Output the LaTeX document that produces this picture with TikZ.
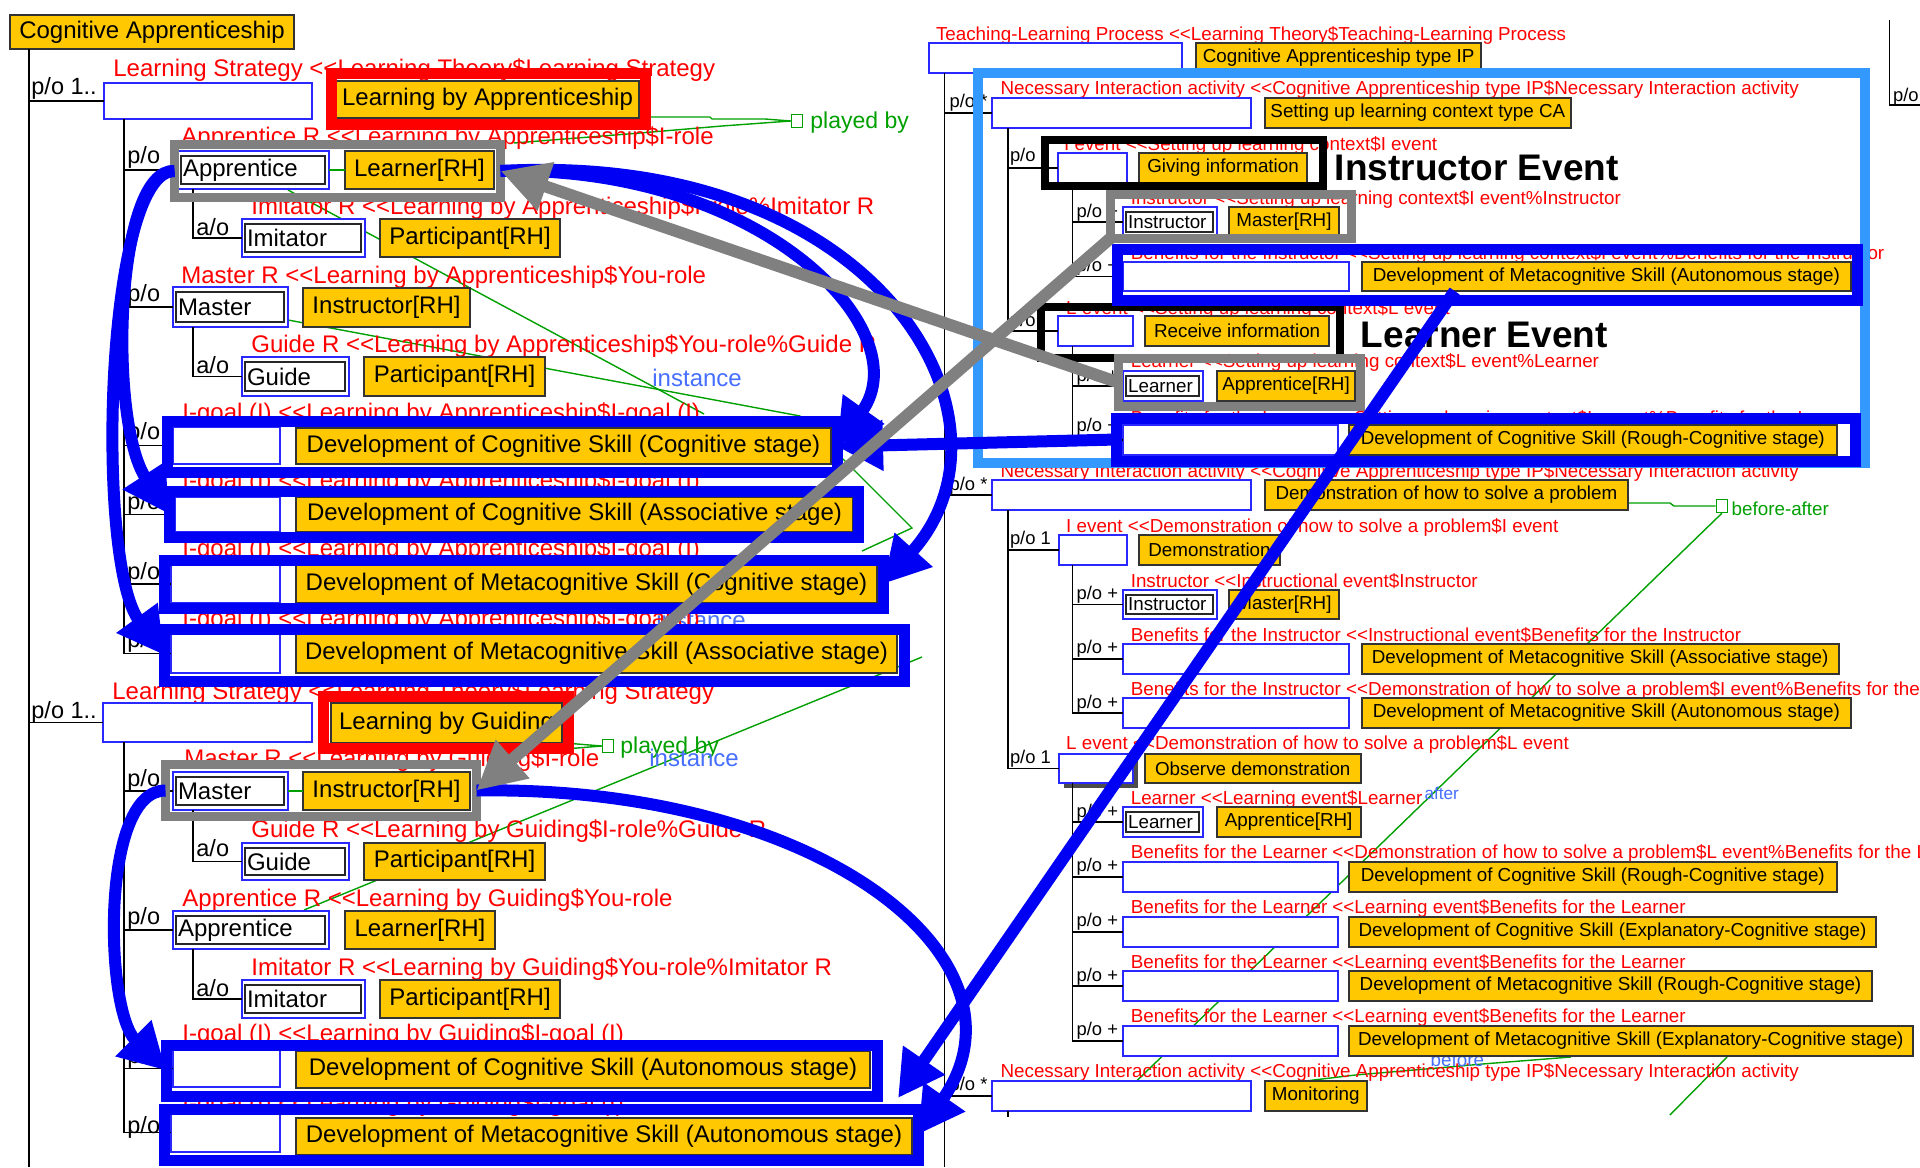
\documentclass[tikz,border=0pt]{standalone}
\usepackage{fontspec}
\setmainfont{Liberation Sans}
\usetikzlibrary{arrows.meta,calc}

\definecolor{boxyellow}{RGB}{255,200,0}
\definecolor{lblred}{RGB}{255,0,0}
\definecolor{frblue}{RGB}{0,0,245}
\definecolor{ltblue}{RGB}{51,153,255}
\definecolor{frgrey}{RGB}{128,128,128}
\definecolor{lkgreen}{RGB}{0,160,0}
\definecolor{instblue}{RGB}{70,110,255}
\definecolor{edgeblue}{RGB}{40,40,255}

% "<<" without the TeX ligature
\newcommand\dbl{<\kern0pt<}
% box: style, name, x1, y1, x2, y2, text (pixel units, y downwards)
\newcommand\bx[7]{\node[#1, anchor=north west, minimum width={(#5-#3)*0.5pt}, minimum height={(#6-#4)*0.5pt}] (#2) at (#3,#4) {#7};}
% role box with inner black outline
\newcommand\rb[7]{\node[#1, anchor=north west, minimum height={(#6-#4)*0.5pt}, text width={(#5-#3-10)*0.5pt}] (#2) at (#3,#4) {#7};
  \draw[line width=1.1pt, black!85] (#3+3,#4+5) rectangle (#5-4,#6-5);}
% highlight frame: style, name, centre-line rectangle
\newcommand\fr[6]{\node[#1, anchor=north west, minimum width={(#5-#3)*0.5pt}, minimum height={(#6-#4)*0.5pt}] (#2) at (#3,#4) {};}
% free text
\newcounter{tn}
\newcommand\tx[3][lbl]{\stepcounter{tn}\node[#1] (t\arabic{tn}) at (#2) {#3};}

\begin{document}
\begin{tikzpicture}[x=0.5pt,y=-0.5pt,
  lbl/.style={text=lblred, inner sep=0, anchor=west, font=\fontsize{12}{14}\selectfont},
  lblr/.style={lbl, font=\fontsize{9.4}{11}\selectfont},
  po/.style={inner sep=0, anchor=west, font=\fontsize{11.75}{14}\selectfont},
  por/.style={po, font=\fontsize{9.2}{11}\selectfont},
  big/.style={inner sep=0, anchor=west, font=\fontsize{18.5}{21}\selectfont\bfseries},
  grn/.style={inner sep=0, anchor=west, text=lkgreen, font=\fontsize{11.5}{13}\selectfont},
  inst/.style={inner sep=0, anchor=west, text=instblue, font=\fontsize{12}{14}\selectfont},
  ybox/.style={draw=black!80, fill=boxyellow, line width=1pt, inner sep=0, outer sep=0, font=\fontsize{12}{14}\selectfont},
  yboxr/.style={ybox, font=\fontsize{9.4}{11}\selectfont},
  wbox/.style={draw=edgeblue, fill=white, line width=1pt, inner sep=0, outer sep=0},
  rbox/.style={wbox, inner xsep=2.5pt, align=left, font=\fontsize{12}{14}\selectfont},
  rboxr/.style={rbox, font=\fontsize{9.4}{11}\selectfont},
  redfr/.style={draw=red, line width=5.5pt, inner sep=0, outer sep=0},
  greyfr/.style={draw=frgrey, line width=4.5pt, inner sep=0, outer sep=0},
  bluefr/.style={draw=frblue, line width=5.5pt, inner sep=0, outer sep=0},
  ltfr/.style={draw=ltblue, line width=5pt, inner sep=0, outer sep=0},
  blackfr/.style={draw=black, line width=4pt, inner sep=0, outer sep=0},
  sq/.style={draw=lkgreen, line width=0.8pt, fill=white, minimum width=5.5pt, minimum height=6.5pt, inner sep=0},
  tree/.style={line width=0.8pt, black},
  lnk/.style={draw=lkgreen, line width=0.7pt},
  bluearr/.style={draw=frblue, line width=6pt, -{Triangle[length=23pt,width=24pt]}},
  greyarr/.style={draw=frgrey, line width=6pt, -{Triangle[length=24pt,width=24pt]}}]

\useasboundingbox (0,0) rectangle (1920,1167);
\fill[white] (0,0) rectangle (1920,1167);
\clip (0,0) rectangle (1920,1167);

% ---------- model links (green) ----------
\node[sq] (pb1) at (797,121) {};
\node[sq] (pb2) at (608,746) {};
\node[sq] (ba) at (1721.8,506) {};
\draw[lnk] (330,117) -- (710,117) -- (712,119) -- (765,119) -- (pb1.west);
\draw[lnk] (514,143) -- (640,133) -- (722,126) -- (pb1.west);
\draw[lnk] (288,190) -- (704,414);
\draw[lnk] (288,320) -- (800,416) -- (912,528) -- (862,551);
\draw[lnk] (304,910) -- (922,657);
\draw[lnk] (565,743) -- (pb2.west);
\draw[lnk] (565,749) -- (pb2.west);
\draw[lnk] (1628.2,503) -- (1669.9,503) -- (1674,506) -- (ba.west);
\draw[lnk] (ba.south) -- (1136.6,1081);
\draw[lnk] (1727.1,1057) -- (1669.9,1115);
\draw[lnk] (1305.3,1081) -- (1355.3,1075) -- (1449,1067) -- (1482.4,1064) -- (1570.9,1057);
\tx[grn]{810,123}{played by}
\tx[grn]{620,748}{played by}
\tx[grn,font=\fontsize{9.4}{11}\selectfont]{1731.3,509}{before-after}
\tx[inst]{652,378}{instance}
\tx[inst]{656,620}{instance}
\tx[inst]{649,758}{instance}
\tx[inst,font=\fontsize{8.6}{10}\selectfont]{1424.1,793}{after}
\tx[inst,font=\fontsize{9.4}{11}\selectfont]{1430.3,1060}{before}

% ---------- labels, left tree ----------
\tx{113,70}{Learning Strategy \dbl Learning Theory\$Learning Strategy}
\tx{181,138}{Apprentice R \dbl Learning by Apprenticeship\$I-role}
\tx{251,208}{Imitator R \dbl Learning by Apprenticeship\$I-role\%Imitator R}
\tx{181,277}{Master R \dbl Learning by Apprenticeship\$You-role}
\tx{251,346}{Guide R \dbl Learning by Apprenticeship\$You-role\%Guide R}
\tx{182,414}{I-goal (I) \dbl Learning by Apprenticeship\$I-goal (I)}
\tx{182,482}{I-goal (I) \dbl Learning by Apprenticeship\$I-goal (I)}
\tx{182,550}{I-goal (I) \dbl Learning by Apprenticeship\$I-goal (I)}
\tx{182,620}{I-goal (I) \dbl Learning by Apprenticeship\$I-goal (I)}
\tx{112,693}{Learning Strategy \dbl Learning Theory\$Learning Strategy}
\tx{184,760}{Master R \dbl Learning by Guiding\$I-role}
\tx{251,831}{Guide R \dbl Learning by Guiding\$I-role\%Guide R}
\tx{182,900}{Apprentice R \dbl Learning by Guiding\$You-role}
\tx{251,969}{Imitator R \dbl Learning by Guiding\$You-role\%Imitator R}
\tx{182,1035}{I-goal (I) \dbl Learning by Guiding\$I-goal (I)}
\tx{182,1105}{I-goal (I) \dbl Learning by Guiding\$I-goal (I)}

\tx[po]{31,88}{p/o 1..}
\tx[po]{31,712}{p/o 1..}
\tx[po]{127,157}{p/o}
\tx[po]{127,295}{p/o}
\tx[po]{127,433}{p/o}
\tx[po]{127,503}{p/o}
\tx[po]{127,573}{p/o}
\tx[po]{127,641}{p/o}
\tx[po]{127,780}{p/o}
\tx[po]{127,918}{p/o}
\tx[po]{127,1057}{p/o}
\tx[po]{127,1127}{p/o}
\tx[po]{196,227}{a/o}
\tx[po]{196,365}{a/o}
\tx[po]{196,848}{a/o}
\tx[po]{196,988}{a/o}

% ---------- labels, right tree ----------
\tx[lblr]{935.6,35}{Teaching-Learning Process \dbl Learning Theory\$Teaching-Learning Process}
\tx[lblr]{1000.2,89}{Necessary Interaction activity \dbl Cognitive Apprenticeship type IP\$Necessary Interaction activity}
\tx[lblr]{1063.7,145}{I event \dbl Setting up learning context\$I event}
\tx[lblr]{1130.4,199}{Instructor \dbl Setting up learning context\$I event\%Instructor}
\tx[lblr]{1130.4,254}{Benefits for the Instructor \dbl Setting up learning context\$I event\%Benefits for the Instructor}
\tx[lblr]{1065.8,309}{L event \dbl Setting up learning context\$L event}
\tx[lblr]{1130.4,362}{Learner \dbl Setting up learning context\$L event\%Learner}
\tx[lblr]{1130.4,419}{Benefits for the Learner \dbl Setting up learning context\$L event\%Benefits for the Learner}
\tx[lblr]{1000.2,472}{Necessary Interaction activity \dbl Cognitive Apprenticeship type IP\$Necessary Interaction activity}
\tx[lblr]{1065.8,527}{I event \dbl Demonstration of how to solve a problem\$I event}
\tx[lblr]{1130.4,581}{Instructor \dbl Instructional event\$Instructor}
\tx[lblr]{1130.4,635}{Benefits for the Instructor \dbl Instructional event\$Benefits for the Instructor}
\tx[lblr]{1130.4,690}{Benefits for the Instructor \dbl Demonstration of how to solve a problem\$I event\%Benefits for the Instructor}
\tx[lblr]{1065.8,744}{L event \dbl Demonstration of how to solve a problem\$L event}
\tx[lblr]{1130.4,799}{Learner \dbl Learning event\$Learner}
\tx[lblr]{1130.4,853}{Benefits for the Learner \dbl Demonstration of how to solve a problem\$L event\%Benefits for the Learner}
\tx[lblr]{1130.4,908}{Benefits for the Learner \dbl Learning event\$Benefits for the Learner}
\tx[lblr]{1130.4,963}{Benefits for the Learner \dbl Learning event\$Benefits for the Learner}
\tx[lblr]{1130.4,1017}{Benefits for the Learner \dbl Learning event\$Benefits for the Learner}
\tx[lblr]{1000.2,1072}{Necessary Interaction activity \dbl Cognitive Apprenticeship type IP\$Necessary Interaction activity}

\tx[por]{949.2,103}{p/o *}
\tx[por]{949.2,486}{p/o *}
\tx[por]{949.2,1086}{p/o *}
\tx[por]{1009.6,157}{p/o}
\tx[por]{1009.6,322}{p/o}
\tx[por]{1009.6,540}{p/o 1}
\tx[por]{1009.6,759}{p/o 1}
\tx[por]{1076.2,213}{p/o +}
\tx[por]{1076.2,267}{p/o +}
\tx[por]{1076.2,377}{p/o +}
\tx[por]{1076.2,427}{p/o +}
\tx[por]{1076.2,595}{p/o +}
\tx[por]{1076.2,649}{p/o +}
\tx[por]{1076.2,704}{p/o +}
\tx[por]{1076.2,813}{p/o +}
\tx[por]{1076.2,867}{p/o +}
\tx[por]{1076.2,922}{p/o +}
\tx[por]{1076.2,977}{p/o +}
\tx[por]{1076.2,1031}{p/o +}
\tx[por]{1892.7,97}{p/o}

% ---------- left tree: boxes ----------
\bx{ybox}{root}{10}{15}{294}{49}{Cognitive Apprenticeship}
\bx{wbox}{s1}{104}{83}{312}{119}{}
\bx{ybox}{lba}{336}{81}{639}{118}{Learning by Apprenticeship}
\rb{rbox}{aA}{178}{151}{329}{189}{Apprentice}
\bx{ybox}{yaA}{345}{151}{494}{189}{Learner[RH]}
\rb{rbox}{iA}{242}{219}{365}{257}{Imitator}
\bx{ybox}{yiA}{380}{219}{560}{257}{Participant[RH]}
\rb{rbox}{mA}{173}{287}{288}{327}{Master}
\bx{ybox}{ymA}{303}{288}{470}{327}{Instructor[RH]}
\rb{rbox}{gA}{242}{357}{349}{396}{Guide}
\bx{ybox}{ygA}{364}{357}{545}{396}{Participant[RH]}
\bx{wbox}{wC1}{173}{427}{280}{464}{}
\bx{ybox}{yC1}{296}{428}{831}{464}{Development of Cognitive Skill (Cognitive stage)}
\bx{wbox}{wC2}{175}{497}{280}{532}{}
\bx{ybox}{yC2}{296}{497}{853}{532}{Development of Cognitive Skill (Associative stage)}
\bx{wbox}{wM1}{171}{565}{280}{603}{}
\bx{ybox}{yM1}{296}{565}{877}{603}{Development of Metacognitive Skill (Cognitive stage)}
\bx{wbox}{wM2}{171}{634}{280}{673}{}
\bx{ybox}{yM2}{296}{634}{897}{673}{Development of Metacognitive Skill (Associative stage)}
\bx{wbox}{s2}{103}{703}{312}{742}{}
\bx{ybox}{lbg}{331}{703}{562}{743}{Learning by Guiding}
\rb{rbox}{mG}{173}{772}{288}{810}{Master}
\bx{ybox}{ymG}{303}{772}{470}{810}{Instructor[RH]}
\rb{rbox}{gG}{242}{843}{349}{880}{Guide}
\bx{ybox}{ygG}{364}{843}{545}{880}{Participant[RH]}
\rb{rbox}{aG}{173}{911}{329}{949}{Apprentice}
\bx{ybox}{yaG}{345}{911}{495}{949}{Learner[RH]}
\rb{rbox}{iG}{242}{980}{365}{1018}{Imitator}
\bx{ybox}{yiG}{380}{980}{560}{1018}{Participant[RH]}
\bx{wbox}{wC3}{173}{1050}{280}{1087}{}
\bx{ybox}{yC3}{296}{1051}{870}{1088}{Development of Cognitive Skill (Autonomous stage)}
\bx{wbox}{wM3}{171}{1113}{280}{1152}{}
\bx{ybox}{yM3}{296}{1118}{912}{1155}{Development of Metacognitive Skill (Autonomous stage)}

\draw[lnk] (aA.east) -- (yaA.west);
\draw[lnk] (mG.east) -- (ymG.west);

% ---------- left tree: part-of lines ----------
\draw[tree] ([xshift=9.5pt]root.south west) |- (s1.west);
\draw[tree] ([xshift=9.5pt]root.south west) |- (s2.west);
\draw[tree] (29,720) -- (29,1167);
\foreach \c in {aA,mA,wC1,wC2,wM1,wM2}
  \draw[tree] ([xshift=10pt]s1.south west) |- (\c.west);
\foreach \c in {mG,aG,wC3,wM3}
  \draw[tree] ([xshift=10.5pt]s2.south west) |- (\c.west);
\draw[tree] ([xshift=7.5pt]aA.south west) |- (iA.west);
\draw[tree] ([xshift=10pt]mA.south west) |- (gA.west);
\draw[tree] ([xshift=10pt]mG.south west) |- (gG.west);
\draw[tree] ([xshift=10pt]aG.south west) |- (iG.west);

% ---------- right tree: boxes ----------
\bx{wbox}{tl}{929.4}{43}{1182.4}{73}{}
\bx{yboxr}{ytl}{1196}{43}{1481.3}{72}{Cognitive Apprenticeship type IP}
\bx{wbox}{n1}{991.9}{98}{1251.2}{128}{}
\bx{yboxr}{yn1}{1264.7}{98}{1570.9}{128}{Setting up learning context type CA}
\bx{wbox}{ie1}{1057.5}{153}{1127.2}{183}{}
\bx{yboxr}{yie1}{1138.7}{153}{1307.4}{183}{Giving information}
\rb{rboxr}{in1}{1123.1}{207}{1216.8}{237}{Instructor}
\bx{yboxr}{yin1}{1229.3}{207}{1338.7}{237}{Master[RH]}
\bx{wbox}{bi1}{1123.1}{262}{1349.1}{291}{}
\bx{yboxr}{ybi1}{1361.6}{262}{1851.1}{291}{Development of Metacognitive Skill (Autonomous stage)}
\bx{wbox}{le1}{1057.5}{316}{1132.5}{346}{}
\bx{yboxr}{yle1}{1145}{316}{1329.3}{346}{Receive information}
\rb{rboxr}{ln1}{1123.1}{371}{1203.3}{401}{Learner}
\bx{yboxr}{yln1}{1216.8}{371}{1355.3}{401}{Apprentice[RH]}
\bx{wbox}{bl1}{1123.1}{425}{1337.6}{455}{}
\bx{yboxr}{ybl1}{1349.1}{425}{1836.5}{455}{Development of Cognitive Skill (Rough-Cognitive stage)}
\bx{wbox}{n2}{991.9}{480}{1251.2}{510}{}
\bx{yboxr}{yn2}{1264.7}{480}{1628.2}{510}{Demonstration of how to solve a problem}
\bx{wbox}{ie2}{1058.5}{535}{1127.2}{565}{}
\bx{yboxr}{yie2}{1138.7}{535}{1280.3}{565}{Demonstration}
\rb{rboxr}{in2}{1123.1}{590}{1216.8}{619}{Instructor}
\bx{yboxr}{yin2}{1229.3}{590}{1338.7}{619}{Master[RH]}
\bx{wbox}{bi2}{1123.1}{644}{1349.1}{674}{}
\bx{yboxr}{ybi2}{1361.6}{644}{1838.6}{674}{Development of Metacognitive Skill (Associative stage)}
\bx{wbox}{bi3}{1123.1}{698}{1349.1}{728}{}
\bx{yboxr}{ybi3}{1361.6}{698}{1851.1}{728}{Development of Metacognitive Skill (Autonomous stage)}
\fill[black!70] (1063.7,759) rectangle (1137.7,788);
\bx{wbox}{le2}{1058.5}{754}{1132.5}{783}{}
\bx{yboxr}{yle2}{1145}{754}{1360.5}{783}{Observe demonstration}
\rb{rboxr}{ln2}{1123.1}{807}{1203.3}{837}{Learner}
\bx{yboxr}{yln2}{1216.8}{807}{1360.5}{837}{Apprentice[RH]}
\bx{wbox}{bl2}{1123.1}{862}{1337.6}{892}{}
\bx{yboxr}{ybl2}{1349.1}{862}{1836.5}{892}{Development of Cognitive Skill (Rough-Cognitive stage)}
\bx{wbox}{bl3}{1123.1}{917}{1337.6}{947}{}
\bx{yboxr}{ybl3}{1349.1}{917}{1876}{947}{Development of Cognitive Skill (Explanatory-Cognitive stage)}
\bx{wbox}{bl4}{1123.1}{971}{1337.6}{1001}{}
\bx{yboxr}{ybl4}{1349.1}{971}{1871.9}{1001}{Development of Metacognitive Skill (Rough-Cognitive stage)}
\bx{wbox}{bl5}{1123.1}{1026}{1337.6}{1056}{}
\bx{yboxr}{ybl5}{1349.1}{1026}{1912.5}{1056}{Development of Metacognitive Skill (Explanatory-Cognitive stage)}
\bx{wbox}{n3}{991.9}{1081}{1251.2}{1111}{}
\bx{yboxr}{yn3}{1264.7}{1081}{1366.8}{1111}{Monitoring}

\tx[big]{1334.5,168}{Instructor Event}
\tx[big]{1360.5,335}{Learner Event}

% ---------- right tree: part-of lines ----------
\draw[tree] ([xshift=7.5pt]tl.south west) -- (944.4,1167);
\foreach \c in {n1,n2,n3}
  \draw[tree] ([xshift=7.5pt]tl.south west) |- (\c.west);
\foreach \c in {ie1,le1}
  \draw[tree] ([xshift=8pt]n1.south west) |- (\c.west);
\foreach \c in {ie2,le2}
  \draw[tree] ([xshift=8pt]n2.south west) |- (\c.west);
\draw[tree] ([xshift=8pt]n3.south west) -- ++(0,6);
\foreach \c in {in1,bi1}
  \draw[tree] ([xshift=7.5pt]ie1.south west) |- (\c.west);
\foreach \c in {ln1,bl1}
  \draw[tree] ([xshift=7.5pt]le1.south west) |- (\c.west);
\foreach \c in {in2,bi2,bi3}
  \draw[tree] ([xshift=7pt]ie2.south west) |- (\c.west);
\foreach \c in {ln2,bl2,bl3,bl4,bl5}
  \draw[tree] ([xshift=7pt]le2.south west) |- (\c.west);
\draw[tree] (1889.6,20) |- (1920,105);

% ---------- highlight frames ----------
\fr{redfr}{rf1}{331}{73}{645}{124}
\fr{redfr}{rf2}{323.5}{696.5}{568.5}{748.5}
\fr{greyfr}{gfA}{174.5}{144.5}{500.5}{197.5}
\fr{greyfr}{gfG}{165.5}{764.5}{476.5}{816.5}
\fr{bluefr}{bfC1}{167}{421}{837}{472}
\fr{bluefr}{bfC2}{169}{491}{858}{537}
\fr{bluefr}{bfM1}{164}{560}{883}{608}
\fr{bluefr}{bfM2}{164}{629}{904}{681}
\fr{bluefr}{bfC3}{166}{1045}{877}{1096}
\fr{bluefr}{bfM3}{164}{1109}{918}{1160}
\fr{ltfr}{lbf}{978.3}{73}{1864.6}{463}
\fr{blackfr}{kfI}{1045}{140}{1323.1}{186}
\fr{blackfr}{kfL}{1040.8}{307}{1339.7}{358}
\fr{greyfr}{gfI}{1110.1}{194.5}{1351.7}{238.5}
\fr{greyfr}{gfL}{1118.4}{358.5}{1360}{406.5}
\fr{bluefr}{bfI}{1117.9}{249}{1857.3}{300}
\fr{bluefr}{bfL}{1116.8}{418}{1855.2}{461}

% ---------- correspondence arrows ----------
\coordinate (dtip) at (898,1098);
\draw[bluearr] (gfA.west) .. controls (115,168) and (108,420) .. (bfC2.west);
\draw[bluearr] (gfA.west) .. controls (105,170) and (95,560) .. (bfM2.west);
\draw[bluearr] (gfA.east) .. controls (760,165) and (920,330) .. (bfC1.east);
\draw[bluearr] (gfA.east) .. controls (880,150) and (1030,420) .. (bfM1.east);
\draw[bluearr] (bfL.west) -- (bfC1.east);
\draw[bluearr] ($(ybi1.south west)!0.19!(ybi1.south east)$) -- (dtip);
\draw[bluearr] (gfG.east) .. controls (820,785) and (1040,960) .. (bfM3.east);
\draw[bluearr] (gfG.west) .. controls (100,790) and (105,1010) .. (bfC3.west);
\draw[greyarr] (gfL.west) -- (gfA.east);
\draw[greyarr] (gfI.south west) -- (gfG.east);
\end{tikzpicture}
\end{document}
